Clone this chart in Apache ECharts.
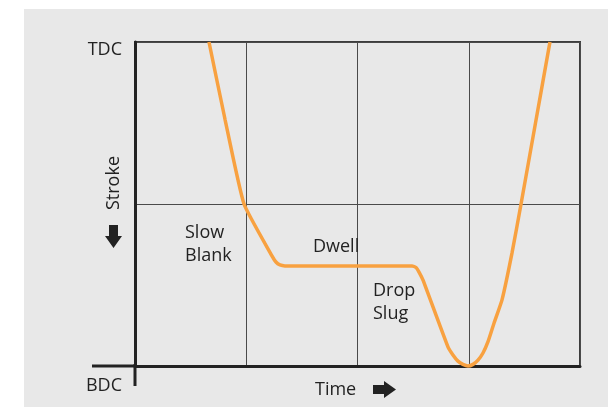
<!DOCTYPE html>
<html>
<head>
<meta charset="utf-8">
<script src="https://cdn.jsdelivr.net/npm/echarts@6/dist/echarts.min.js"></script>
<style>html,body{margin:0;padding:0;background:#fff}#c{width:608px;height:407px}</style>
</head>
<body>
<div id="c"></div>
<script>
// Time (x, 0..4 grid units) and Stroke (y, 0 = BDC, 1 = TDC)
var timeValues   = [0.665, 0.810, 0.980, 1.231, 1.267, 1.303, 1.348, 2.490, 2.526, 2.553, 2.589, 2.813, 2.858, 2.903, 2.948, 2.993, 3.038, 3.083, 3.128, 3.173, 3.227, 3.299, 3.389, 3.470, 3.600, 3.730];
var strokeValues = [1.000, 0.760, 0.500, 0.340, 0.321, 0.312, 0.309, 0.309, 0.304, 0.290, 0.265, 0.059, 0.034, 0.015, 0.005, 0.000, 0.005, 0.018, 0.040, 0.075, 0.132, 0.204, 0.349, 0.500, 0.750, 1.000];
var yTickLabels  = {0: 'BDC', 0.5: '', 1: 'TDC'};
var xAxisTitle = 'Time';
var yAxisTitle = 'Stroke';
var annotations = ['Slow\nBlank', 'Dwell', 'Drop\nSlug'];

var points = timeValues.map(function (t, i) { return [t, strokeValues[i]]; });
var FONT = '"Open Sans", sans-serif';

var chart = echarts.init(document.getElementById('c'), null, {renderer: 'canvas'});
chart.setOption({
  backgroundColor: '#ffffff',
  animation: false,
  grid: {left: 135, right: 28, top: 42, bottom: 41, show: true, borderColor: '#3c3c3c', borderWidth: 2, backgroundColor: 'transparent', containLabel: false},
  xAxis: {
    type: 'value', min: 0, max: 4, interval: 1,
    axisLine: {show: true, onZero: false, lineStyle: {color: '#222', width: 3}},
    axisTick: {show: false}, axisLabel: {show: false},
    splitLine: {show: true, lineStyle: {color: '#4a4a4a', width: 1}}
  },
  yAxis: {
    type: 'value', min: 0, max: 1, interval: 0.5,
    axisLine: {show: true, onZero: false, lineStyle: {color: '#222', width: 3}},
    axisTick: {show: false},
    axisLabel: {
      show: true, margin: 13, verticalAlign: 'top',
      formatter: function (v) {
        var s = yTickLabels[v] || '';
        if (!s) return '';
        return v === 0 ? '{b|' + s + '}' : '{t|' + s + '}';
      },
      rich: {
        t: {fontFamily: FONT, fontSize: 18, color: '#222', lineHeight: 16},
        b: {fontFamily: FONT, fontSize: 18, color: '#222', lineHeight: 40}
      }
    },
    splitLine: {show: true, lineStyle: {color: '#4a4a4a', width: 1}}
  },
  graphic: [
    {type: 'rect', z: -10, silent: true, shape: {x: 24, y: 9, width: 584, height: 398}, style: {fill: '#e8e8e8'}},
    {type: 'line', z: 10, shape: {x1: 135, y1: 364, x2: 135, y2: 386}, style: {stroke: '#222', lineWidth: 3}},
    {type: 'line', z: 10, shape: {x1: 92, y1: 366, x2: 137, y2: 366}, style: {stroke: '#222', lineWidth: 3}},
    {type: 'text', z: 10, left: 185, top: 221, style: {text: annotations[0], font: '18px ' + FONT, fill: '#222', lineHeight: 23}},
    {type: 'text', z: 10, left: 313, top: 238, style: {text: annotations[1], font: '18px ' + FONT, fill: '#222'}},
    {type: 'text', z: 10, left: 373, top: 279, style: {text: annotations[2], font: '18px ' + FONT, fill: '#222', lineHeight: 23}},
    {type: 'text', z: 10, left: 315, top: 381, style: {text: xAxisTitle, font: '18px ' + FONT, fill: '#222'}},
    {type: 'text', z: 10, x: 114, y: 183, rotation: Math.PI / 2, style: {text: yAxisTitle, font: '18px ' + FONT, fill: '#222', align: 'center', verticalAlign: 'middle'}},
    // down arrow
    {type: 'polygon', z: 10, shape: {points: [[109, 225], [118, 225], [118, 236], [122, 236], [113.5, 248], [105, 236], [109, 236]]}, style: {fill: '#222'}},
    // right arrow
    {type: 'polygon', z: 10, shape: {points: [[373, 385], [384, 385], [384, 381], [396, 389.5], [384, 398], [384, 394], [373, 394]]}, style: {fill: '#222'}}
  ],
  series: [{
    type: 'line', data: points, showSymbol: false, smooth: 0.15, clip: false,
    lineStyle: {color: '#f8a140', width: 3.5}, z: 5
  }]
});
</script>
</body>
</html>
